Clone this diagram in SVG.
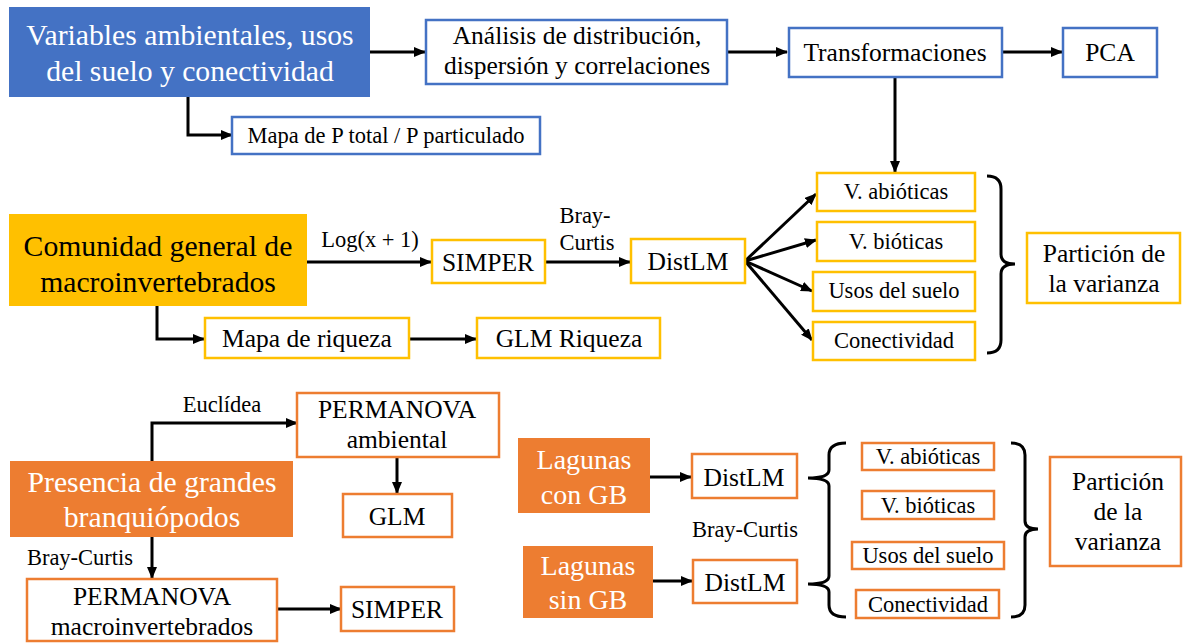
<svg xmlns="http://www.w3.org/2000/svg" width="1184" height="643" viewBox="0 0 1184 643">
<defs>
<marker id="ah" markerUnits="userSpaceOnUse" markerWidth="12" markerHeight="10" refX="11" refY="5" orient="auto">
<path d="M0,0 L12,5 L0,10 Z" fill="#000"/>
</marker>
<style>
text{font-family:'Liberation Serif','Times New Roman',serif;fill:#000;text-anchor:middle}
.w{fill:#fff}
.b{fill:#fff;stroke:#4472C4;stroke-width:2.5}
.y{fill:#fff;stroke:#FFC000;stroke-width:2.5}
.o{fill:#fff;stroke:#ED7D31;stroke-width:2.5}
.c{fill:none;stroke:#000;stroke-width:3;marker-end:url(#ah)}
.br{fill:none;stroke:#000;stroke-width:3}
.f30{font-size:29.7px}
.f28{font-size:28px}
.f25{font-size:25.5px}
.f22{font-size:22.5px}
</style>
</defs>
<rect width="1184" height="643" fill="#fff"/>

<g id="connectors">
<path class="c" d="M370,52 H425"/>
<path class="c" d="M727,52 H787"/>
<path class="c" d="M1002,52 H1062"/>
<path class="c" d="M895,77 V172"/>
<path class="c" d="M188,97 V135 H232"/>
<path class="c" d="M307,262 H431"/>
<path class="c" d="M545,262 H630"/>
<path class="c" d="M745,261 L816,194"/>
<path class="c" d="M745,261 L816,240"/>
<path class="c" d="M745,261 L812,291"/>
<path class="c" d="M745,261 L812,340"/>
<path class="c" d="M157,306 V339 H204"/>
<path class="c" d="M409,339 H476"/>
<path class="c" d="M152,461 V423 H297"/>
<path class="c" d="M397,457 V493"/>
<path class="c" d="M152,537 V578"/>
<path class="c" d="M277,609 H341"/>
<path class="c" d="M650,477 H691"/>
<path class="c" d="M653,581 H692"/>
<path class="br" d="M987,176 Q1001,176 1001,189 L1001,254 Q1001,264 1015,264 Q1001,264 1001,274 L1001,340 Q1001,353 987,353"/>
<path class="br" d="M846,443 Q829,443 829,455 L829,470 Q829,478 808,478 Q829,478 829,486 L829,576 Q829,584 808,584 Q829,584 829,592 L829,605 Q829,617 846,617"/>
<path class="br" d="M1011,443 Q1025,443 1025,455 L1025,521 Q1025,529 1038,529 Q1025,529 1025,537 L1025,605 Q1025,617 1011,617"/>
</g>

<g id="variables">
<rect x="9" y="7" width="361" height="90" fill="#4472C4"/>
<text class="f30 w" x="190" y="45">Variables ambientales, usos</text>
<text class="f30 w" x="190" y="81">del suelo y conectividad</text>
</g>
<g id="analisis">
<rect class="b" x="426" y="20" width="301" height="64"/>
<text class="f25" x="577" y="44">Análisis de distribución,</text>
<text class="f25" x="577" y="74">dispersión y correlaciones</text>
</g>
<g id="transformaciones">
<rect class="b" x="789" y="28" width="213" height="49"/>
<text class="f25" x="895" y="61">Transformaciones</text>
</g>
<g id="pca">
<rect class="b" x="1063" y="28" width="94" height="49"/>
<text class="f25" x="1110" y="61">PCA</text>
</g>
<g id="mapaP">
<rect class="b" x="232" y="117" width="308" height="37"/>
<text class="f22" x="386" y="143">Mapa de P total / P particulado</text>
</g>

<g id="comunidad">
<rect x="9" y="214" width="298" height="92" fill="#FFC000"/>
<text class="f30" x="158" y="256">Comunidad general de</text>
<text class="f30" x="158" y="292">macroinvertebrados</text>
</g>
<g id="labels-mid">
<text class="f22" x="370" y="247">Log(x + 1)</text>
<text class="f22" x="585" y="223">Bray-</text>
<text class="f22" x="587" y="250">Curtis</text>
</g>
<g id="simper1">
<rect class="y" x="432" y="240" width="113" height="43"/>
<text class="f25" x="488" y="271">SIMPER</text>
</g>
<g id="distlm1">
<rect class="y" x="631" y="239" width="114" height="44"/>
<text class="f25" x="688" y="270">DistLM</text>
</g>
<g id="abioticas1">
<rect class="y" x="817" y="173" width="158" height="38"/>
<text class="f22" x="896" y="199">V. abióticas</text>
</g>
<g id="bioticas1">
<rect class="y" x="817" y="222" width="158" height="39"/>
<text class="f22" x="896" y="249">V. bióticas</text>
</g>
<g id="usos1">
<rect class="y" x="813" y="272" width="162" height="39"/>
<text class="f22" x="894" y="298">Usos del suelo</text>
</g>
<g id="conectividad1">
<rect class="y" x="813" y="322" width="162" height="38"/>
<text class="f22" x="894" y="348">Conectividad</text>
</g>
<g id="particion1">
<rect class="y" x="1027" y="233" width="153" height="70"/>
<text class="f25" x="1104" y="262">Partición de</text>
<text class="f25" x="1104" y="292">la varianza</text>
</g>
<g id="mapariqueza">
<rect class="y" x="205" y="318" width="204" height="40"/>
<text class="f25" x="307" y="347">Mapa de riqueza</text>
</g>
<g id="glmriqueza">
<rect class="y" x="477" y="318" width="183" height="40"/>
<text class="f25" x="569" y="347">GLM Riqueza</text>
</g>

<g id="presencia">
<rect x="10" y="461" width="283" height="76" fill="#ED7D31"/>
<text class="f30 w" x="152" y="492">Presencia de grandes</text>
<text class="f30 w" x="152" y="527">branquiópodos</text>
</g>
<g id="labels-bottom">
<text class="f22" x="222" y="412">Euclídea</text>
<text class="f22" x="80" y="565">Bray-Curtis</text>
<text class="f22" x="745" y="537">Bray-Curtis</text>
</g>
<g id="permanova-amb">
<rect class="o" x="297" y="393" width="202" height="64"/>
<text class="f25" x="397" y="418">PERMANOVA</text>
<text class="f25" x="397" y="448">ambiental</text>
</g>
<g id="glm">
<rect class="o" x="343" y="494" width="109" height="43"/>
<text class="f25" x="397" y="525">GLM</text>
</g>
<g id="permanova-macro">
<rect class="o" x="27" y="579" width="250" height="62"/>
<text class="f25" x="152" y="605">PERMANOVA</text>
<text class="f25" x="152" y="635">macroinvertebrados</text>
</g>
<g id="simper2">
<rect class="o" x="341" y="587" width="113" height="44"/>
<text class="f25" x="397" y="618">SIMPER</text>
</g>

<g id="lagunas-con">
<rect x="518" y="438" width="132" height="75" fill="#ED7D31"/>
<text class="f28 w" x="584" y="469">Lagunas</text>
<text class="f28 w" x="584" y="504">con GB</text>
</g>
<g id="lagunas-sin">
<rect x="523" y="546" width="130" height="72" fill="#ED7D31"/>
<text class="f28 w" x="588" y="575">Lagunas</text>
<text class="f28 w" x="588" y="609">sin GB</text>
</g>
<g id="distlm2">
<rect class="o" x="692" y="454" width="105" height="44"/>
<text class="f25" x="744" y="486">DistLM</text>
</g>
<g id="distlm3">
<rect class="o" x="693" y="560" width="104" height="43"/>
<text class="f25" x="745" y="591">DistLM</text>
</g>
<g id="abioticas2">
<rect class="o" x="862" y="443" width="132" height="27"/>
<text class="f22" x="928" y="464">V. abióticas</text>
</g>
<g id="bioticas2">
<rect class="o" x="862" y="491" width="132" height="28"/>
<text class="f22" x="928" y="513">V. bióticas</text>
</g>
<g id="usos2">
<rect class="o" x="852" y="542" width="152" height="27"/>
<text class="f22" x="928" y="563">Usos del suelo</text>
</g>
<g id="conectividad2">
<rect class="o" x="856" y="590" width="143" height="28"/>
<text class="f22" x="928" y="612">Conectividad</text>
</g>
<g id="particion2">
<rect class="o" x="1050" y="457" width="131" height="109"/>
<text class="f25" x="1118" y="490">Partición</text>
<text class="f25" x="1118" y="520">de la</text>
<text class="f25" x="1118" y="550">varianza</text>
</g>
</svg>
